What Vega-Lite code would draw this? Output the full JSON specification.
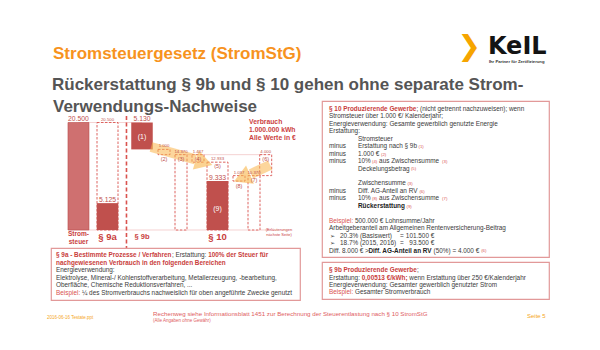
{
  "$schema": "https://vega.github.io/schema/vega-lite/v6.json",
  "padding": 0,
  "spacing": 0,
  "background": "white",
  "config": {
    "view": {"stroke": null},
    "font": "Liberation Sans",
    "locale": {"number": {"decimal": ",", "thousands": ".", "grouping": [3], "currency": ["", " €"]}}
  },
  "datasets": {
    "header": [
      {"part": "title", "line": 0, "col": 16.83, "text": "Stromsteuergesetz (StromStG)"},
      {"part": "subtitle", "line": 1, "col": 16.5, "text": "Rückerstattung § 9b und § 10 gehen ohne separate Strom-"},
      {"part": "brand", "line": 0, "col": 154.9, "text": "KeIL"},
      {"part": "tagline", "line": 0, "col": 155.2, "text": "Ihr Partner für Zertifizierung"}
    ],
    "subtitle2": [
      {"part": "subtitle", "line": 2, "col": 0, "text": "Verwendungs-Nachweise"}
    ],
    "waterfall": [
      {"step": 0, "name": "Stromsteuer", "part": "tax", "lo": 0, "hi": 20500, "amount": 20500},
      {"step": 1, "name": "§ 9a Basis", "part": "base", "lo": 0, "hi": 20500, "amount": 20500},
      {"step": 1, "name": "§ 9a Erstattung", "part": "refund", "lo": 0, "hi": 5125, "amount": 5125},
      {"step": 2, "name": "§ 9b Erstattung", "part": "refund", "tag": "(1)", "lo": 15370, "hi": 20500, "amount": 5130},
      {"step": 3, "name": "Abzug 1.000 €", "part": "calc", "tag": "(2)", "lo": 14370, "hi": 15370, "amount": 1000},
      {"step": 4, "name": "Zwischensumme", "part": "calc", "tag": "(3)", "lo": 0, "hi": 14370, "amount": 14370},
      {"step": 5, "name": "10 % aus Zwischensumme", "part": "calc", "tag": "(4)", "lo": 12933, "hi": 14370, "amount": 1437},
      {"step": 6, "name": "Deckelungsbetrag", "part": "base", "tag": "(5)", "lo": 0, "hi": 12933, "amount": 12933},
      {"step": 6, "name": "Rückerstattung § 10", "part": "refund", "tag": "(9)", "lo": 0, "hi": 9333, "amount": 9333},
      {"step": 7, "name": "10 % aus Zwischensumme", "part": "calc", "tag": "(8)", "lo": 9333, "hi": 10370, "amount": 1037},
      {"step": 8, "name": "Zwischensumme", "part": "calc", "tag": "(7)", "lo": 0, "hi": 10370, "amount": 10370},
      {"step": 9, "name": "Diff. AG-Anteil an RV", "part": "calc", "tag": "(6)", "lo": 10370, "hi": 14370, "amount": 4000}
    ],
    "guides": [
      {"from": -0.3, "to": 9.4, "level": 0},
      {"from": 0, "to": 2, "level": 20500},
      {"from": 4, "to": 9, "level": 14370}
    ],
    "arrows": [
      {"arrow": "(1) nach (5)", "point": "tail", "step": 2.41, "value": 15828},
      {"arrow": "(1) nach (5)", "point": "neck", "step": 4.85, "value": 13470},
      {"arrow": "(1) nach (5)", "point": "head", "step": 5.31, "value": 12872},
      {"arrow": "(6) nach (8)", "point": "tail", "step": 9.38, "value": 12395},
      {"arrow": "(6) nach (8)", "point": "neck", "step": 7.8, "value": 10679},
      {"arrow": "(6) nach (8)", "point": "head", "step": 7.2, "value": 9916}
    ],
    "categories": [
      {"step": 0, "label": "Strom-\nsteuer"},
      {"step": 1, "label": "§ 9a"},
      {"step": 2, "label": "§ 9b"},
      {"step": 6, "label": "§ 10"}
    ],
    "notes": [
      {"note": "consumption", "text": "Verbrauch\n1.000.000 kWh\nAlle Werte in €"},
      {"note": "explanation", "text": "(Erläuterungen\nnächste Seite)"}
    ],
    "box9a": [
      {"line": 0, "col": 0, "kind": "redbold", "text": "§ 9a - Bestimmte Prozesse / Verfahren"},
      {"line": 0, "col": 36.8, "kind": "normal", "text": "; Erstattung:"},
      {"line": 0, "col": 48.3, "kind": "redbold", "text": "100% der Steuer für"},
      {"line": 1, "col": 0, "kind": "redbold", "text": "nachgewiesenen Verbrauch in den folgenden Bereichen"},
      {"line": 2, "col": 0, "kind": "normal", "text": "Energieverwendung:"},
      {"line": 3, "col": 0, "kind": "normal", "text": "Elektrolyse, Mineral-/ Kohlenstoffverarbeitung, Metallerzeugung, -bearbeitung,"},
      {"line": 4, "col": 0, "kind": "normal", "text": "Oberfläche, Chemische Reduktionsverfahren, ..."},
      {"line": 5, "col": 0, "kind": "red", "text": "Beispiel:"},
      {"line": 5, "col": 8.25, "kind": "normal", "text": "¼ des Stromverbrauchs nachweislich für oben angeführte Zwecke genutzt"}
    ],
    "box10": [
      {"line": 0, "col": 0, "kind": "redbold", "text": "§ 10 Produzierende Gewerbe"},
      {"line": 0, "col": 27.8, "kind": "normal", "text": "; (nicht getrennt nachzuweisen); wenn"},
      {"line": 1, "col": 0, "kind": "normal", "text": "Stromsteuer über 1.000 €/ Kalenderjahr;"},
      {"line": 2, "col": 0, "kind": "normal", "text": "Energieverwendung: Gesamte gewerblich genutzte Energie"},
      {"line": 3, "col": 0, "kind": "normal", "text": "Erstattung:"},
      {"line": 4, "col": 9.2, "kind": "normal", "text": "Stromsteuer"},
      {"line": 5, "col": 0, "kind": "normal", "text": "minus"},
      {"line": 5, "col": 9.2, "kind": "normal", "text": "Erstattung nach § 9b"},
      {"line": 5, "col": 28.4, "kind": "marker", "text": "(1)"},
      {"line": 6, "col": 0, "kind": "normal", "text": "minus"},
      {"line": 6, "col": 9.2, "kind": "normal", "text": "1.000 €"},
      {"line": 6, "col": 16.5, "kind": "marker", "text": "(2)"},
      {"line": 7, "col": 0, "kind": "normal", "text": "minus"},
      {"line": 7, "col": 9.2, "kind": "normal", "text": "10%"},
      {"line": 7, "col": 13.65, "kind": "marker", "text": "(4)"},
      {"line": 7, "col": 15.9, "kind": "normal", "text": "aus Zwischensumme"},
      {"line": 7, "col": 35.9, "kind": "marker", "text": "(3)"},
      {"line": 8, "col": 9.2, "kind": "normal", "text": "Deckelungsbetrag"},
      {"line": 8, "col": 26.0, "kind": "marker", "text": "(5)"},
      {"line": 10, "col": 9.2, "kind": "normal", "text": "Zwischensumme"},
      {"line": 10, "col": 24.9, "kind": "marker", "text": "(3)"},
      {"line": 11, "col": 0, "kind": "normal", "text": "minus"},
      {"line": 11, "col": 9.2, "kind": "normal", "text": "Diff. AG-Anteil an RV"},
      {"line": 11, "col": 28.7, "kind": "marker", "text": "(6)"},
      {"line": 12, "col": 0, "kind": "normal", "text": "minus"},
      {"line": 12, "col": 9.2, "kind": "normal", "text": "10%"},
      {"line": 12, "col": 13.65, "kind": "marker", "text": "(8)"},
      {"line": 12, "col": 15.9, "kind": "normal", "text": "aus Zwischensumme"},
      {"line": 12, "col": 35.9, "kind": "marker", "text": "(7)"},
      {"line": 13, "col": 9.2, "kind": "bold", "text": "Rückerstattung"},
      {"line": 13, "col": 24.6, "kind": "marker", "text": "(9)"},
      {"line": 15, "col": 0, "kind": "red", "text": "Beispiel:"},
      {"line": 15, "col": 8.25, "kind": "normal", "text": "500.000 € Lohnsumme/Jahr"},
      {"line": 16, "col": 0, "kind": "normal", "text": "Arbeitgeberanteil am Allgemeinen Rentenversicherung-Beitrag"},
      {"line": 17, "col": 0.3, "kind": "normal", "text": "➢"},
      {"line": 17, "col": 3.5, "kind": "normal", "text": "20.3% (Basiswert)"},
      {"line": 17, "col": 22.5, "kind": "normal", "text": "="},
      {"line": 17, "col": 24.4, "kind": "normal", "text": "101.500 €"},
      {"line": 18, "col": 0.3, "kind": "normal", "text": "➢"},
      {"line": 18, "col": 3.5, "kind": "normal", "text": "18.7% (2015, 2016)"},
      {"line": 18, "col": 22.5, "kind": "normal", "text": "="},
      {"line": 18, "col": 25.5, "kind": "normal", "text": "93.500 €"},
      {"line": 19, "col": 0, "kind": "normal", "text": "Diff. 8.000 € >"},
      {"line": 19, "col": 12.5, "kind": "bold", "text": "Diff. AG-Anteil an RV"},
      {"line": 19, "col": 33.2, "kind": "normal", "text": "(50%) = 4.000 €"},
      {"line": 19, "col": 48.3, "kind": "marker", "text": "(6)"}
    ],
    "box9b": [
      {"line": 0, "col": 0, "kind": "redbold", "text": "§ 9b Produzierende Gewerbe"},
      {"line": 0, "col": 27.9, "kind": "normal", "text": ";"},
      {"line": 1, "col": 0, "kind": "normal", "text": "Erstattung:"},
      {"line": 1, "col": 10.4, "kind": "redbold", "text": "0,00513 €/kWh;"},
      {"line": 1, "col": 25.5, "kind": "normal", "text": "wenn Erstattung über 250 €/Kalenderjahr"},
      {"line": 2, "col": 0, "kind": "normal", "text": "Energieverwendung: Gesamter gewerblich genutzter Strom"},
      {"line": 3, "col": 0, "kind": "red", "text": "Beispiel:"},
      {"line": 3, "col": 8.25, "kind": "normal", "text": "Gesamter Stromverbrauch"}
    ],
    "footer": [
      {"part": "main", "line": 0, "col": 48.57, "text": "Rechenweg siehe Informationsblatt 1451 zur Berechnung der Steuerentlastung nach § 10 StromStG"},
      {"part": "note", "line": 1, "col": 48.57, "text": "(Alle Angaben ohne Gewähr)"},
      {"part": "date", "line": 0, "col": 14.92, "text": "2016-06-16 Testate.ppt"},
      {"part": "page", "line": 0, "col": 167.3, "text": "Seite 5"}
    ]
  },
  "vconcat": [
    {
      "width": 600,
      "height": 96,
      "data": {"name": "header"},
      "encoding": {
        "x": {"field": "col", "type": "quantitative", "scale": {"domain": [0, 190.476], "nice": false, "zero": false}, "axis": null},
        "y": {"field": "line", "type": "quantitative", "scale": {"domain": [-1.903, 1.194], "nice": false, "zero": false, "reverse": true}, "axis": null}
      },
      "layer": [
        {
          "data": {"values": [{}]},
          "mark": {"type": "rule", "color": "#F9CFB0", "strokeWidth": 2},
          "encoding": {"x": {"datum": 13.33, "type": "quantitative"}, "x2": {"datum": 177.78}, "y": {"datum": 0.3, "type": "quantitative"}}
        },
        {
          "transform": [{"filter": "datum.part === 'brand'"}],
          "mark": {"type": "text", "align": "right", "baseline": "alphabetic", "font": "DejaVu Sans", "fontSize": 28, "fontWeight": "bold", "color": "#F6A500", "dx": -7, "dy": -4},
          "encoding": {"text": {"value": "❯"}}
        },
        {
          "transform": [{"filter": "datum.part === 'title'"}],
          "mark": {"type": "text", "align": "left", "baseline": "alphabetic", "fontSize": 17, "fontWeight": "bold", "color": "#F7931E"},
          "encoding": {"text": {"field": "text"}}
        },
        {
          "transform": [{"filter": "datum.part === 'subtitle'"}],
          "mark": {"type": "text", "align": "left", "baseline": "alphabetic", "fontSize": 17, "fontWeight": "bold", "color": "#555555"},
          "encoding": {"text": {"field": "text"}}
        },
        {
          "transform": [{"filter": "datum.part === 'brand'"}],
          "mark": {"type": "text", "align": "left", "baseline": "alphabetic", "font": "DejaVu Sans", "fontSize": 24, "fontWeight": "bold", "color": "#141414", "dy": -5},
          "encoding": {"text": {"field": "text"}}
        },
        {
          "transform": [{"filter": "datum.part === 'tagline'"}],
          "mark": {"type": "text", "align": "left", "baseline": "alphabetic", "fontSize": 4.2, "fontWeight": "bold", "color": "#333333", "dy": 4.5},
          "encoding": {"text": {"field": "text"}}
        }
      ]
    },
    {
      "spacing": 0,
      "hconcat": [
        {"width": 50, "height": 202, "data": {"values": [{}]}, "mark": {"type": "point", "opacity": 0}},
        {
          "spacing": 0,
          "bounds": "flush",
          "vconcat": [
            {
              "width": 249,
              "height": 18,
              "data": {"name": "subtitle2"},
              "mark": {"type": "text", "align": "left", "baseline": "alphabetic", "fontSize": 17, "fontWeight": "bold", "color": "#555555"},
              "encoding": {
                "x": {"field": "col", "type": "quantitative", "scale": {"domain": [-0.635, 78.41], "nice": false, "zero": false}, "axis": null},
                "y": {"field": "line", "type": "quantitative", "scale": {"domain": [1.25, 2.25], "nice": false, "zero": false, "reverse": true}, "axis": null},
                "text": {"field": "text"}
              }
            },
            {
              "width": 249,
              "height": 132,
              "layer": [
                {
                  "data": {"name": "guides"},
                  "mark": {"type": "rule", "color": "#F3C8C8", "strokeWidth": 0.8},
                  "encoding": {
                    "x": {"field": "from", "type": "quantitative", "scale": {"domain": [0, 1, 2, 3, 4, 5, 6, 7, 8, 9], "range": [20.5, 56.5, 91, 113, 130, 147, 166.5, 188, 203, 217.5], "nice": false, "zero": false}, "axis": null},
                    "x2": {"field": "to"},
                    "y": {"field": "level", "type": "quantitative", "scale": {"domain": [-3433, 21740], "nice": false, "zero": false}, "axis": null}
                  }
                },
                {
                  "data": {"values": [{}]},
                  "mark": {"type": "rule", "color": "#D9534F", "strokeWidth": 1.6, "strokeDash": [4, 2.5]},
                  "encoding": {"x": {"datum": 1.55, "type": "quantitative"}}
                },
                {
                  "data": {"name": "waterfall"},
                  "transform": [{"filter": "datum.part === 'tax'"}],
                  "mark": {"type": "bar", "width": 21, "color": "#CF7070", "stroke": "#BA4D4B", "strokeWidth": 0.6},
                  "encoding": {
                    "x": {"field": "step", "type": "quantitative"},
                    "y": {"field": "hi", "type": "quantitative"},
                    "y2": {"field": "lo"}
                  }
                },
                {
                  "data": {"name": "waterfall"},
                  "transform": [{"filter": "datum.part === 'base'"}],
                  "mark": {"type": "bar", "width": 21, "fill": "white", "stroke": "#D9534F", "strokeWidth": 0.9, "strokeDash": [2.5, 1.5]},
                  "encoding": {
                    "x": {"field": "step", "type": "quantitative"},
                    "y": {"field": "hi", "type": "quantitative"},
                    "y2": {"field": "lo"}
                  }
                },
                {
                  "data": {"name": "waterfall"},
                  "transform": [{"filter": "datum.part === 'refund'"}],
                  "mark": {"type": "bar", "width": 21.5, "color": "#C0504D"},
                  "encoding": {
                    "x": {"field": "step", "type": "quantitative"},
                    "y": {"field": "hi", "type": "quantitative"},
                    "y2": {"field": "lo"}
                  }
                },
                {
                  "data": {"name": "waterfall"},
                  "transform": [{"filter": "datum.part === 'calc'"}],
                  "mark": {"type": "bar", "width": 12, "fill": "white", "stroke": "#D9534F", "strokeWidth": 0.9, "strokeDash": [2.5, 1.5]},
                  "encoding": {
                    "x": {"field": "step", "type": "quantitative"},
                    "y": {"field": "hi", "type": "quantitative"},
                    "y2": {"field": "lo"}
                  }
                },
                {
                  "data": {"name": "arrows"},
                  "transform": [{"filter": "datum.point !== 'head'"}],
                  "mark": {"type": "line", "strokeWidth": 10, "color": "#F9B54A", "opacity": 0.55, "strokeCap": "butt"},
                  "encoding": {
                    "x": {"field": "step", "type": "quantitative"},
                    "y": {"field": "value", "type": "quantitative"},
                    "detail": {"field": "arrow"}
                  }
                },
                {
                  "data": {"name": "arrows"},
                  "transform": [{"filter": "datum.point === 'head' && datum.arrow === '(1) nach (5)'"}],
                  "mark": {"type": "point", "shape": "triangle-right", "angle": 17, "size": 400, "filled": true, "color": "#F9B54A", "opacity": 0.6},
                  "encoding": {
                    "x": {"field": "step", "type": "quantitative"},
                    "y": {"field": "value", "type": "quantitative"}
                  }
                },
                {
                  "data": {"name": "arrows"},
                  "transform": [{"filter": "datum.point === 'head' && datum.arrow === '(6) nach (8)'"}],
                  "mark": {"type": "point", "shape": "triangle-left", "angle": 337, "size": 400, "filled": true, "color": "#F9B54A", "opacity": 0.6},
                  "encoding": {
                    "x": {"field": "step", "type": "quantitative"},
                    "y": {"field": "value", "type": "quantitative"}
                  }
                },
                {
                  "data": {"name": "waterfall"},
                  "transform": [{"filter": "datum.part === 'tax' || datum.part === 'refund'"}],
                  "mark": {"type": "text", "baseline": "bottom", "dy": -0.5, "fontSize": 6.8, "color": "#C0504D"},
                  "encoding": {
                    "x": {"field": "step", "type": "quantitative"},
                    "y": {"field": "hi", "type": "quantitative"},
                    "text": {"field": "amount", "type": "quantitative", "format": ",d"}
                  }
                },
                {
                  "data": {"name": "waterfall"},
                  "transform": [{"filter": "datum.part === 'base' || datum.part === 'calc'"}],
                  "mark": {"type": "text", "baseline": "bottom", "dy": -1, "fontSize": 4.3, "color": "#C0504D"},
                  "encoding": {
                    "x": {"field": "step", "type": "quantitative"},
                    "y": {"field": "hi", "type": "quantitative"},
                    "text": {"field": "amount", "type": "quantitative", "format": ",d"}
                  }
                },
                {
                  "data": {"name": "waterfall"},
                  "transform": [{"filter": "datum.tag === '(1)'"}],
                  "mark": {"type": "text", "baseline": "middle", "dy": 14, "fontSize": 7, "color": "white"},
                  "encoding": {
                    "x": {"field": "step", "type": "quantitative"},
                    "y": {"field": "hi", "type": "quantitative"},
                    "text": {"field": "tag"}
                  }
                },
                {
                  "data": {"name": "waterfall"},
                  "transform": [{"filter": "datum.tag === '(9)'"}],
                  "mark": {"type": "text", "baseline": "middle", "dy": 28, "fontSize": 7, "color": "white"},
                  "encoding": {
                    "x": {"field": "step", "type": "quantitative"},
                    "y": {"field": "hi", "type": "quantitative"},
                    "text": {"field": "tag"}
                  }
                },
                {
                  "data": {"name": "waterfall"},
                  "transform": [{"filter": "datum.tag && datum.part !== 'refund' && datum.tag !== '(2)' && datum.tag !== '(8)'"}],
                  "mark": {"type": "text", "baseline": "top", "dy": 2, "fontSize": 5.5, "color": "#C0504D"},
                  "encoding": {
                    "x": {"field": "step", "type": "quantitative"},
                    "y": {"field": "hi", "type": "quantitative"},
                    "text": {"field": "tag"}
                  }
                },
                {
                  "data": {"name": "waterfall"},
                  "transform": [{"filter": "datum.tag === '(2)' || datum.tag === '(8)'"}],
                  "mark": {"type": "text", "baseline": "top", "dy": 2.5, "fontSize": 5.5, "color": "#C0504D"},
                  "encoding": {
                    "x": {"field": "step", "type": "quantitative"},
                    "y": {"field": "lo", "type": "quantitative"},
                    "text": {"field": "tag"}
                  }
                },
                {
                  "data": {"name": "categories"},
                  "transform": [{"filter": "datum.step === 0"}],
                  "mark": {"type": "text", "baseline": "top", "dy": 1.5, "fontSize": 6.5, "fontWeight": "bold", "lineBreak": "\n", "lineHeight": 7.5, "color": "#C9403C"},
                  "encoding": {
                    "x": {"field": "step", "type": "quantitative"},
                    "y": {"datum": 0, "type": "quantitative"},
                    "text": {"field": "label"}
                  }
                },
                {
                  "data": {"name": "categories"},
                  "transform": [{"filter": "datum.step === 1 || datum.step === 6"}],
                  "mark": {"type": "text", "baseline": "top", "dy": 2.5, "fontSize": 9.5, "fontWeight": "bold", "color": "#C9403C"},
                  "encoding": {
                    "x": {"field": "step", "type": "quantitative"},
                    "y": {"datum": 0, "type": "quantitative"},
                    "text": {"field": "label"}
                  }
                },
                {
                  "data": {"name": "categories"},
                  "transform": [{"filter": "datum.step === 2"}],
                  "mark": {"type": "text", "baseline": "top", "dy": 3.5, "fontSize": 7.5, "fontWeight": "bold", "color": "#C9403C"},
                  "encoding": {
                    "x": {"field": "step", "type": "quantitative"},
                    "y": {"datum": 0, "type": "quantitative"},
                    "text": {"field": "label"}
                  }
                },
                {
                  "data": {"name": "notes"},
                  "transform": [{"filter": "datum.note === 'consumption'"}],
                  "mark": {"type": "text", "align": "left", "baseline": "top", "dy": -4, "fontSize": 6.8, "fontWeight": "bold", "lineBreak": "\n", "lineHeight": 8.3, "color": "#CC3F3F"},
                  "encoding": {
                    "x": {"datum": 7.67, "type": "quantitative"},
                    "y": {"datum": 20500, "type": "quantitative"},
                    "text": {"field": "text"}
                  }
                },
                {
                  "data": {"name": "notes"},
                  "transform": [{"filter": "datum.note === 'explanation'"}],
                  "mark": {"type": "text", "align": "center", "baseline": "top", "dy": -2, "fontSize": 4, "lineBreak": "\n", "lineHeight": 5, "color": "#C9403C"},
                  "encoding": {
                    "x": {"datum": 10.14, "type": "quantitative"},
                    "y": {"datum": 0, "type": "quantitative"},
                    "text": {"field": "text"}
                  }
                }
              ]
            },
            {
              "width": 249,
              "height": 52,
              "view": {"stroke": "#E29999", "strokeWidth": 1.2},
              "data": {"name": "box9a"},
              "encoding": {
                "x": {"field": "col", "type": "quantitative", "scale": {"domain": [-1.587, 77.46], "nice": false, "zero": false}, "axis": null},
                "y": {"field": "line", "type": "quantitative", "scale": {"domain": [-0.921, 5.921], "nice": false, "zero": false, "reverse": true}, "axis": null},
                "text": {"field": "text"}
              },
              "layer": [
                {"transform": [{"filter": "datum.kind === 'normal'"}], "mark": {"type": "text", "align": "left", "baseline": "middle", "fontSize": 6.4, "color": "#3a3a3a"}},
                {"transform": [{"filter": "datum.kind === 'red'"}], "mark": {"type": "text", "align": "left", "baseline": "middle", "fontSize": 6.4, "color": "#D9534F"}},
                {"transform": [{"filter": "datum.kind === 'redbold'"}], "mark": {"type": "text", "align": "left", "baseline": "middle", "fontSize": 6.4, "fontWeight": "bold", "color": "#C9403C"}}
              ]
            }
          ]
        },
        {"width": 20, "height": 202, "data": {"values": [{}]}, "mark": {"type": "point", "opacity": 0}},
        {
          "spacing": 0,
          "bounds": "flush",
          "vconcat": [
            {"width": 227, "height": 3, "data": {"values": [{}]}, "mark": {"type": "point", "opacity": 0}},
            {
              "width": 227,
              "height": 156,
              "view": {"stroke": "#E29999", "strokeWidth": 1.2},
              "data": {"name": "box10"},
              "encoding": {
                "x": {"field": "col", "type": "quantitative", "scale": {"domain": [-2.222, 69.84], "nice": false, "zero": false}, "axis": null},
                "y": {"field": "line", "type": "quantitative", "scale": {"domain": [-1.074, 19.866], "nice": false, "zero": false, "reverse": true}, "axis": null},
                "text": {"field": "text"}
              },
              "layer": [
                {"transform": [{"filter": "datum.kind === 'normal'"}], "mark": {"type": "text", "align": "left", "baseline": "middle", "fontSize": 6.4, "color": "#3a3a3a"}},
                {"transform": [{"filter": "datum.kind === 'bold'"}], "mark": {"type": "text", "align": "left", "baseline": "middle", "fontSize": 6.4, "fontWeight": "bold", "color": "#222222"}},
                {"transform": [{"filter": "datum.kind === 'red'"}], "mark": {"type": "text", "align": "left", "baseline": "middle", "fontSize": 6.4, "color": "#D9534F"}},
                {"transform": [{"filter": "datum.kind === 'redbold'"}], "mark": {"type": "text", "align": "left", "baseline": "middle", "fontSize": 6.4, "fontWeight": "bold", "color": "#C9403C"}},
                {"transform": [{"filter": "datum.kind === 'marker'"}], "mark": {"type": "text", "align": "left", "baseline": "middle", "dy": 0.8, "fontSize": 4.3, "color": "#D9534F"}}
              ]
            },
            {"width": 227, "height": 5, "data": {"values": [{}]}, "mark": {"type": "point", "opacity": 0}},
            {
              "width": 227,
              "height": 37,
              "view": {"stroke": "#E29999", "strokeWidth": 1.2},
              "data": {"name": "box9b"},
              "encoding": {
                "x": {"field": "col", "type": "quantitative", "scale": {"domain": [-2.222, 69.84], "nice": false, "zero": false}, "axis": null},
                "y": {"field": "line", "type": "quantitative", "scale": {"domain": [-1.067, 3.867], "nice": false, "zero": false, "reverse": true}, "axis": null},
                "text": {"field": "text"}
              },
              "layer": [
                {"transform": [{"filter": "datum.kind === 'normal'"}], "mark": {"type": "text", "align": "left", "baseline": "middle", "fontSize": 6.4, "color": "#3a3a3a"}},
                {"transform": [{"filter": "datum.kind === 'red'"}], "mark": {"type": "text", "align": "left", "baseline": "middle", "fontSize": 6.4, "color": "#D9534F"}},
                {"transform": [{"filter": "datum.kind === 'redbold'"}], "mark": {"type": "text", "align": "left", "baseline": "middle", "fontSize": 6.4, "fontWeight": "bold", "color": "#C9403C"}}
              ]
            },
            {"width": 227, "height": 1, "data": {"values": [{}]}, "mark": {"type": "point", "opacity": 0}}
          ]
        }
      ]
    },
    {
      "width": 600,
      "height": 52,
      "data": {"name": "footer"},
      "encoding": {
        "x": {"field": "col", "type": "quantitative", "scale": {"domain": [0, 190.476], "nice": false, "zero": false}, "axis": null},
        "y": {"field": "line", "type": "quantitative", "scale": {"domain": [-1.571, 5.857], "nice": false, "zero": false, "reverse": true}, "axis": null},
        "text": {"field": "text"}
      },
      "layer": [
        {"transform": [{"filter": "datum.part === 'main'"}], "mark": {"type": "text", "align": "left", "baseline": "middle", "fontSize": 6.2, "color": "#E0605F"}},
        {"transform": [{"filter": "datum.part === 'note'"}], "mark": {"type": "text", "align": "left", "baseline": "middle", "fontSize": 4.5, "color": "#E0605F"}},
        {"transform": [{"filter": "datum.part === 'date'"}], "mark": {"type": "text", "align": "left", "baseline": "middle", "dy": 4, "fontSize": 4.5, "color": "#F5A623"}},
        {"transform": [{"filter": "datum.part === 'page'"}], "mark": {"type": "text", "align": "left", "baseline": "middle", "dy": 2, "fontSize": 6, "color": "#F5A623"}}
      ]
    }
  ]
}
